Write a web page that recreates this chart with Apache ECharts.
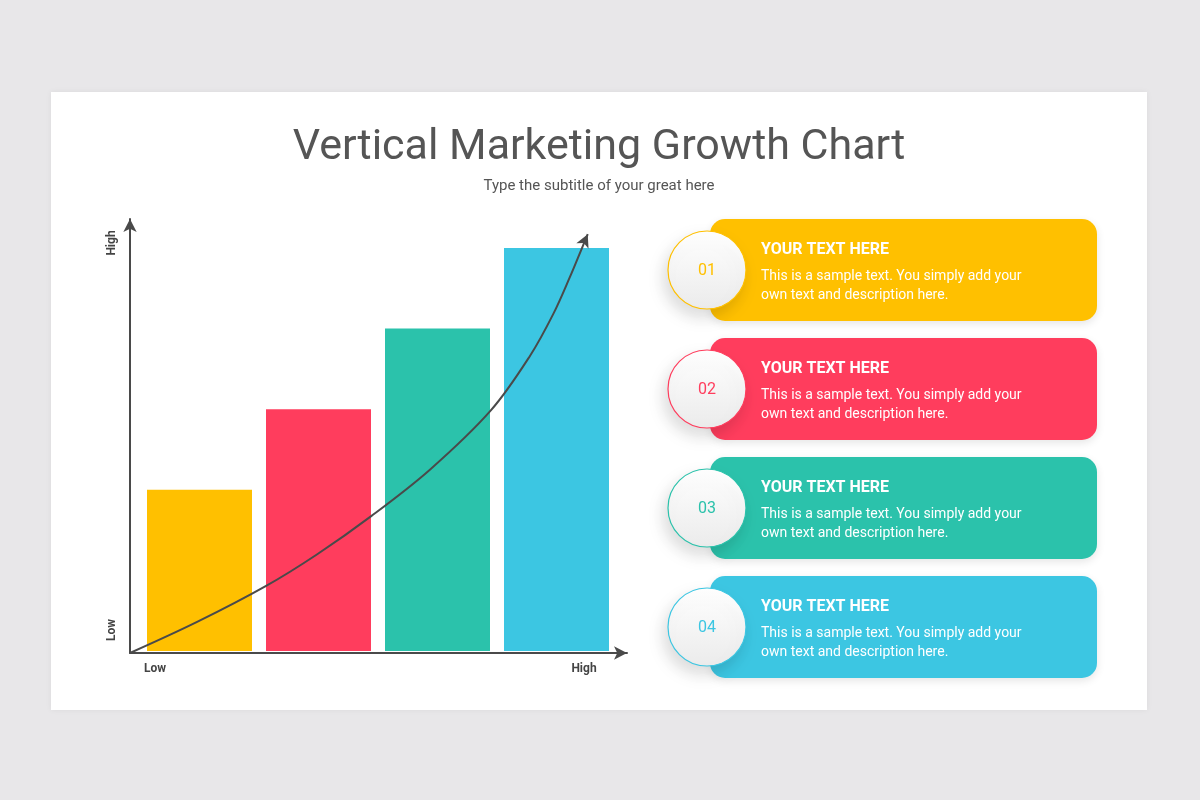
<!DOCTYPE html>
<html>
<head>
<meta charset="utf-8">
<title>Vertical Marketing Growth Chart</title>
<script src="https://cdn.jsdelivr.net/npm/echarts@6/dist/echarts.min.js"></script>
<style>
  html, body { margin: 0; padding: 0; background: #e8e7e9; }
  #chart { width: 1200px; height: 800px; }
</style>
</head>
<body>
<div id="chart"></div>
<script>
// data
var categories = ['01', '02', '03', '04'];
var barValues = [40, 60, 80, 100];
// growth curve (x / y in 0..100 of the axis frame)
var curveX = [0, 13.4, 27.3, 37.6, 48.6, 60.4, 72.6, 80.5, 85.2, 88.5, 90.9, 92.1];
var curveY = [0, 7.1, 15.4, 22.7, 31.6, 42.3, 55.9, 68.5, 78.2, 86.6, 93.2, 96.5];
var cardTitles = ['YOUR TEXT HERE', 'YOUR TEXT HERE', 'YOUR TEXT HERE', 'YOUR TEXT HERE'];
var cardTexts = [
    'This is a sample text. You simply add your\nown text and description here.',
    'This is a sample text. You simply add your\nown text and description here.',
    'This is a sample text. You simply add your\nown text and description here.',
    'This is a sample text. You simply add your\nown text and description here.'
];
var axisLow = 'Low';
var axisHigh = 'High';

var palette = ['#ffc000', '#ff3d5d', '#2bc2ab', '#3cc6e2'];
var axisColor = '#4a4a4a';
var font = 'Roboto, "Noto Sans", sans-serif';

var chart = echarts.init(document.getElementById('chart'));

// page card, titles, axis words and the list on the right
var graphics = [
    {
        type: 'rect', z: -5,
        shape: {x: 51, y: 92, width: 1096, height: 618},
        style: {fill: '#ffffff', shadowBlur: 6, shadowColor: 'rgba(0,0,0,0.06)'}
    },
    {
        type: 'text', x: 599, y: 148,
        style: {text: 'Vertical Marketing Growth Chart', fill: '#555555', font: '400 43px ' + font, align: 'center', verticalAlign: 'middle'}
    },
    {
        type: 'text', x: 599, y: 186,
        style: {text: 'Type the subtitle of your great here', fill: '#555555', font: '400 15px ' + font, align: 'center', verticalAlign: 'middle'}
    },
    {
        type: 'text', x: 112, y: 243, rotation: Math.PI / 2,
        style: {text: axisHigh, fill: '#444444', font: 'bold 12px ' + font, align: 'center', verticalAlign: 'middle'}
    },
    {
        type: 'text', x: 112, y: 630, rotation: Math.PI / 2,
        style: {text: axisLow, fill: '#444444', font: 'bold 12px ' + font, align: 'center', verticalAlign: 'middle'}
    },
    {
        type: 'text', x: 155, y: 669,
        style: {text: axisLow, fill: '#444444', font: 'bold 12px ' + font, align: 'center', verticalAlign: 'middle'}
    },
    {
        type: 'text', x: 584, y: 669,
        style: {text: axisHigh, fill: '#444444', font: 'bold 12px ' + font, align: 'center', verticalAlign: 'middle'}
    }
];

for (var i = 0; i < categories.length; i++) {
    var cardTop = 219 + i * 119;
    var c = palette[i];
    graphics.push({
        type: 'rect', z2: 1,
        shape: {x: 710, y: cardTop, width: 387, height: 102, r: 15},
        style: {fill: c, shadowBlur: 8, shadowOffsetY: 3, shadowColor: 'rgba(0,0,0,0.10)'}
    });
    graphics.push({
        type: 'circle', z2: 2,
        shape: {cx: 707, cy: cardTop + 51, r: 39},
        style: {
            fill: new echarts.graphic.LinearGradient(0, 0, 0, 1, [
                {offset: 0, color: '#ffffff'},
                {offset: 1, color: '#ebebeb'}
            ]),
            stroke: c, lineWidth: 1.2,
            shadowBlur: 16, shadowOffsetX: -4, shadowOffsetY: 8, shadowColor: 'rgba(0,0,0,0.14)'
        }
    });
    graphics.push({
        type: 'text', z2: 3, x: 707, y: cardTop + 52,
        style: {text: categories[i], fill: c, font: '400 16px ' + font, align: 'center', verticalAlign: 'middle'}
    });
    graphics.push({
        type: 'text', z2: 3, x: 761, y: cardTop + 31,
        style: {text: cardTitles[i], fill: '#ffffff', font: 'bold 16px ' + font, align: 'left', verticalAlign: 'middle'}
    });
    graphics.push({
        type: 'text', z2: 3, x: 761, y: cardTop + 48,
        style: {text: cardTexts[i], fill: '#ffffff', font: '400 14px ' + font, lineHeight: 19, align: 'left', verticalAlign: 'top'}
    });
}

var option = {
    backgroundColor: '#e8e7e9',
    animation: false,
    graphic: graphics,
    grid: [
        // bars
        {left: 140, top: 248, width: 476, height: 403},
        // axis frame with arrows + curve
        {left: 130, top: 219, width: 497, height: 434}
    ],
    xAxis: [
        {
            type: 'category', gridIndex: 0, data: categories, show: false
        },
        {
            type: 'value', gridIndex: 1, min: 0, max: 100,
            axisLine: {show: true, symbol: ['none', 'arrow'], symbolSize: [10, 13], lineStyle: {color: axisColor, width: 2}},
            axisTick: {show: false}, axisLabel: {show: false}, splitLine: {show: false}
        }
    ],
    yAxis: [
        {
            type: 'value', gridIndex: 0, min: 0, max: 100, show: false
        },
        {
            type: 'value', gridIndex: 1, min: 0, max: 100,
            axisLine: {show: true, symbol: ['none', 'arrow'], symbolSize: [10, 13], lineStyle: {color: axisColor, width: 2}},
            axisTick: {show: false}, axisLabel: {show: false}, splitLine: {show: false}
        }
    ],
    series: [
        {
            type: 'bar',
            xAxisIndex: 0, yAxisIndex: 0,
            barWidth: 105,
            data: barValues.map(function (v, k) {
                return {value: v, itemStyle: {color: palette[k]}};
            }),
            silent: true
        },
        {
            type: 'line',
            xAxisIndex: 1, yAxisIndex: 1,
            smooth: 0.35,
            symbol: 'none',
            lineStyle: {color: axisColor, width: 2},
            z: 5,
            silent: true,
            data: curveX.map(function (x, k) {
                var p = {value: [x, curveY[k]]};
                if (k === curveX.length - 1) {
                    // arrow head at the end of the curve
                    p.symbol = 'arrow';
                    p.symbolSize = [10, 13];
                    p.symbolRotate = -24;
                    p.itemStyle = {color: axisColor};
                }
                return p;
            })
        }
    ]
};

chart.setOption(option);
</script>
</body>
</html>
